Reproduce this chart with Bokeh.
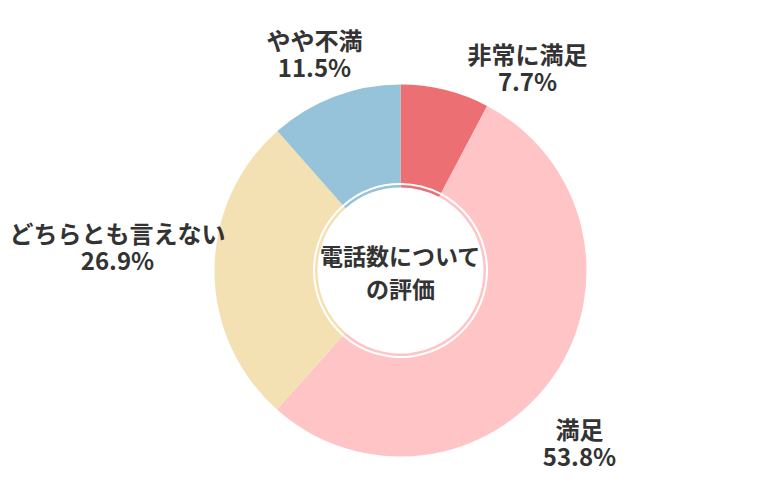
import math
from bokeh.plotting import figure
from bokeh.models import Range1d, ColumnDataSource
from bokeh.core.properties import value
from bokeh.embed import file_html
from bokeh.resources import INLINE

# ---- data ----
categories = ["非常に満足", "満足", "どちらとも言えない", "やや不満"]
percents = [7.7, 53.8, 26.9, 11.5]
colors = ["#EC7073", "#FFC4C6", "#F4E1B3", "#96C2DA"]
center_title = ["電話数について", "の評価"]

# ---- layout (pixel coords, y downward) ----
W, H = 780, 500
CX, CY = 400, 270
R_OUT, R_IN = 186, 87.5
RING_OUT, RING_IN = 85.5, 83
label_pos = [(527, 53), (579, 428), (117, 232), (314, 39)]
LINE_GAP = 27
FONT = "Noto Sans CJK JP"
TXT = "#333333"

total = sum(percents)
starts, ends = [], []
acc = 0.0
for v in percents:
    starts.append(math.pi / 2 - 2 * math.pi * acc / total)
    acc += v
    ends.append(math.pi / 2 - 2 * math.pi * acc / total)

p = figure(width=W, height=H, x_range=Range1d(0, W), y_range=Range1d(0, H),
           x_axis_type=None, y_axis_type=None, toolbar_location=None,
           output_backend="svg", min_border=0)
p.outline_line_color = None
p.grid.visible = False
p.background_fill_color = "white"

src = ColumnDataSource(dict(start=starts, end=ends, color=colors))
p.annular_wedge(x=CX, y=H - CY, inner_radius=R_IN, outer_radius=R_OUT,
                start_angle="start", end_angle="end", direction="clock",
                fill_color="color", line_color=None, source=src)
p.annular_wedge(x=CX, y=H - CY, inner_radius=RING_IN, outer_radius=RING_OUT,
                start_angle="start", end_angle="end", direction="clock",
                fill_color="color", line_color=None, source=src)

# labels
lx, ly, lt = [], [], []
for (x, y), name, v in zip(label_pos, categories, percents):
    lx += [x, x]
    ly += [H - y, H - y - LINE_GAP]
    lt += [name, f"{v}%"]
p.text(x=lx, y=ly, text=lt, text_align="center", text_baseline="middle",
       text_font=value(FONT), text_font_style="bold", text_font_size="24px",
       text_color=TXT)

# center title
p.text(x=[CX, CX], y=[H - 254, H - 287], text=center_title,
       text_align="center", text_baseline="middle",
       text_font=value(FONT), text_font_style="bold", text_font_size="23px",
       text_color=TXT)

open("out.html", "w").write(file_html(p, INLINE))
